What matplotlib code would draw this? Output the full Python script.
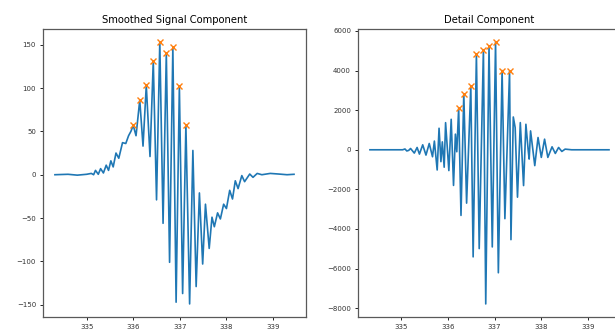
import numpy as np
import matplotlib.pyplot as plt

# smoothed component: turning points of the trace (x, amplitude)
smooth_x = [334.32, 334.6, 334.8, 335.0, 335.1, 335.15, 335.19, 335.25, 335.30, 335.36,
            335.42, 335.47, 335.52, 335.57, 335.63, 335.69, 335.77, 335.84, 335.90, 335.95,
            336.00, 336.06, 336.14, 336.21, 336.28, 336.36, 336.43, 336.50, 336.57, 336.64,
            336.71, 336.78, 336.85, 336.92, 336.99, 337.06, 337.13, 337.21, 337.28, 337.35,
            337.42, 337.49, 337.55, 337.63, 337.69, 337.74, 337.81, 337.87, 337.94, 338.00,
            338.07, 338.13, 338.19, 338.25, 338.33, 338.39, 338.50, 338.57, 338.66, 338.76,
            338.94, 339.12, 339.30, 339.45]
smooth_y = [0, 0.5, -0.5, 0.5, 1.5, 0, 5, 0.5, 7, 2,
            11, 5, 16, 9, 25, 19, 37, 36, 45, 50,
            57, 45, 86, 33, 103, 21, 131, -29, 153, -56,
            140, -101, 147, -147, 102, -137, 57, -149, 28, -129,
            -21, -103, -34, -85, -49, -60, -44, -51, -34, -39,
            -18, -28, -7, -16, -1, -8, 0.8, -3, 1.5, 0,
            1.5, 0.8, 0, 0.5]
smooth_peaks = [336.00, 336.14, 336.28, 336.43, 336.57, 336.71, 336.85, 336.99, 337.13]

# detail component
detail_x = [334.33, 334.8, 335.03, 335.08, 335.12, 335.16, 335.20, 335.28, 335.34, 335.39,
            335.46, 335.53, 335.60, 335.67, 335.71, 335.77, 335.81, 335.85, 335.88, 335.92,
            335.95, 336.02, 336.07, 336.12, 336.16, 336.19, 336.23, 336.28, 336.34, 336.40,
            336.49, 336.54, 336.61, 336.67, 336.76, 336.81, 336.88, 336.95, 337.02, 337.08,
            337.16, 337.22, 337.32, 337.35, 337.40, 337.44, 337.49, 337.55, 337.62, 337.67,
            337.72, 337.74, 337.77, 337.86, 337.93, 338.00, 338.07, 338.14, 338.23, 338.30,
            338.37, 338.44, 338.51, 338.65, 339.45]
detail_y = [0, 0, 0, 40, -60, -30, 65, -167, 117, -218,
            251, -268, 318, -352, 440, -1020, 1088, -600, 400, -880,
            1370, -1050, 1540, -1800, 790, -100, 2090, -3315, 2830, -2695,
            3210, -5407, 4840, -4990, 5055, -7784, 5220, -4905, 5440, -6210,
            4000, -3480, 3970, -4537, 1657, 1120, -2394, 1373, -1808, 1289,
            -50, -470, 954, -800, 620, -385, 536, -385, 150, -185,
            117, -84, 33, 0, 0]
detail_peaks = [336.23, 336.34, 336.49, 336.61, 336.76, 336.88, 337.02, 337.16, 337.32]

fig = plt.figure(figsize=(6.15, 3.29), dpi=100)
ax1 = fig.add_axes([0.0699, 0.0365, 0.4276, 0.8754])
ax2 = fig.add_axes([0.5821, 0.0365, 0.4276, 0.8754])

panels = [
    (ax1, smooth_x, smooth_y, smooth_peaks, 'Smoothed Signal Component', [-150, -100, -50, 0, 50, 100, 150]),
    (ax2, detail_x, detail_y, detail_peaks, 'Detail Component', list(range(-8000, 6001, 2000))),
]

for ax, xs, ys, pk, title, yt in panels:
    xs = np.array(xs)
    ys = np.array(ys)
    ax.plot(xs, ys, color='#1f77b4', lw=1.2)
    sel = np.isin(xs, pk)
    ax.plot(xs[sel], ys[sel], 'x', color='#ff7f0e', ms=4, mew=1.0)
    ax.set_title(title, fontsize=7.2, pad=4)
    ax.set_xticks([335, 336, 337, 338, 339])
    ax.set_yticks(yt)
    ax.tick_params(labelsize=5, length=2.5, width=0.6, pad=2.5, labelcolor='0.2')
    for s in ax.spines.values():
        s.set_color('0.35')
        s.set_linewidth(0.9)

fig.savefig('out.png', dpi=100)
